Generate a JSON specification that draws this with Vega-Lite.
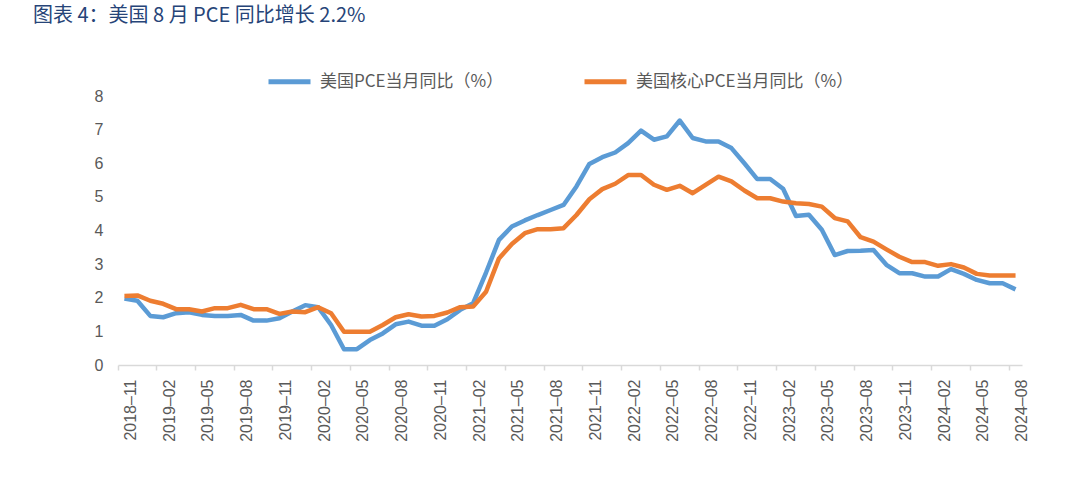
{
  "$schema": "https://vega.github.io/schema/vega-lite/v6.json",
  "width": 904,
  "height": 269,
  "autosize": {"type": "none"},
  "padding": {"left": 118, "top": 96, "right": 60, "bottom": 133},
  "background": "white",
  "config": {
    "view": {"stroke": null},
    "font": "Liberation Sans",
    "axisY": {
      "title": null,
      "values": [0, 1, 2, 3, 4, 5, 6, 7, 8],
      "grid": false,
      "domain": false,
      "ticks": false,
      "tickSize": 0,
      "labelPadding": 15,
      "labelFontSize": 16,
      "labelColor": "#595959",
      "labelOverlap": false
    }
  },
  "title": {
    "text": "图表 4：美国 8 月 PCE 同比增长 2.2%",
    "anchor": "start",
    "frame": "group",
    "orient": "top",
    "dx": -85,
    "offset": 32,
    "font": "Noto Sans CJK SC",
    "fontSize": 20,
    "fontWeight": "normal",
    "color": "#264478"
  },
  "data": {
    "values": [
      {"month": "2018-11", "pce": 1.98, "core": 2.05},
      {"month": "2018-12", "pce": 1.91, "core": 2.07},
      {"month": "2019-01", "pce": 1.46, "core": 1.91},
      {"month": "2019-02", "pce": 1.42, "core": 1.82},
      {"month": "2019-03", "pce": 1.54, "core": 1.66},
      {"month": "2019-04", "pce": 1.57, "core": 1.66},
      {"month": "2019-05", "pce": 1.49, "core": 1.59},
      {"month": "2019-06", "pce": 1.46, "core": 1.69},
      {"month": "2019-07", "pce": 1.46, "core": 1.69},
      {"month": "2019-08", "pce": 1.49, "core": 1.79},
      {"month": "2019-09", "pce": 1.32, "core": 1.66},
      {"month": "2019-10", "pce": 1.32, "core": 1.66},
      {"month": "2019-11", "pce": 1.39, "core": 1.52},
      {"month": "2019-12", "pce": 1.59, "core": 1.59},
      {"month": "2020-01", "pce": 1.78, "core": 1.57},
      {"month": "2020-02", "pce": 1.72, "core": 1.72},
      {"month": "2020-03", "pce": 1.19, "core": 1.54},
      {"month": "2020-04", "pce": 0.47, "core": 0.99},
      {"month": "2020-05", "pce": 0.47, "core": 0.99},
      {"month": "2020-06", "pce": 0.74, "core": 0.99},
      {"month": "2020-07", "pce": 0.94, "core": 1.19},
      {"month": "2020-08", "pce": 1.21, "core": 1.42},
      {"month": "2020-09", "pce": 1.29, "core": 1.51},
      {"month": "2020-10", "pce": 1.17, "core": 1.44},
      {"month": "2020-11", "pce": 1.17, "core": 1.46},
      {"month": "2020-12", "pce": 1.36, "core": 1.56},
      {"month": "2021-01", "pce": 1.64, "core": 1.72},
      {"month": "2021-02", "pce": 1.84, "core": 1.74},
      {"month": "2021-03", "pce": 2.75, "core": 2.18},
      {"month": "2021-04", "pce": 3.72, "core": 3.17},
      {"month": "2021-05", "pce": 4.12, "core": 3.6},
      {"month": "2021-06", "pce": 4.3, "core": 3.92},
      {"month": "2021-07", "pce": 4.46, "core": 4.04},
      {"month": "2021-08", "pce": 4.61, "core": 4.04},
      {"month": "2021-09", "pce": 4.76, "core": 4.07},
      {"month": "2021-10", "pce": 5.31, "core": 4.46},
      {"month": "2021-11", "pce": 5.98, "core": 4.93},
      {"month": "2021-12", "pce": 6.18, "core": 5.23},
      {"month": "2022-01", "pce": 6.32, "core": 5.39},
      {"month": "2022-02", "pce": 6.6, "core": 5.65},
      {"month": "2022-03", "pce": 6.97, "core": 5.65},
      {"month": "2022-04", "pce": 6.7, "core": 5.36},
      {"month": "2022-05", "pce": 6.8, "core": 5.21},
      {"month": "2022-06", "pce": 7.27, "core": 5.33},
      {"month": "2022-07", "pce": 6.75, "core": 5.11},
      {"month": "2022-08", "pce": 6.65, "core": 5.36},
      {"month": "2022-09", "pce": 6.65, "core": 5.6},
      {"month": "2022-10", "pce": 6.45, "core": 5.46},
      {"month": "2022-11", "pce": 6.0, "core": 5.19},
      {"month": "2022-12", "pce": 5.53, "core": 4.96},
      {"month": "2023-01", "pce": 5.53, "core": 4.96},
      {"month": "2023-02", "pce": 5.24, "core": 4.86},
      {"month": "2023-03", "pce": 4.43, "core": 4.81},
      {"month": "2023-04", "pce": 4.47, "core": 4.79},
      {"month": "2023-05", "pce": 4.02, "core": 4.71},
      {"month": "2023-06", "pce": 3.27, "core": 4.37},
      {"month": "2023-07", "pce": 3.39, "core": 4.27},
      {"month": "2023-08", "pce": 3.4, "core": 3.8},
      {"month": "2023-09", "pce": 3.42, "core": 3.67},
      {"month": "2023-10", "pce": 2.98, "core": 3.44},
      {"month": "2023-11", "pce": 2.73, "core": 3.22},
      {"month": "2023-12", "pce": 2.73, "core": 3.06},
      {"month": "2024-01", "pce": 2.63, "core": 3.06},
      {"month": "2024-02", "pce": 2.63, "core": 2.95},
      {"month": "2024-03", "pce": 2.85, "core": 3.0},
      {"month": "2024-04", "pce": 2.71, "core": 2.9},
      {"month": "2024-05", "pce": 2.53, "core": 2.71},
      {"month": "2024-06", "pce": 2.43, "core": 2.66},
      {"month": "2024-07", "pce": 2.43, "core": 2.66},
      {"month": "2024-08", "pce": 2.25, "core": 2.66}
    ]
  },
  "encoding": {
    "x": {
      "field": "month",
      "type": "ordinal",
      "bandPosition": 0.5,
      "scale": {"type": "band", "paddingInner": 0, "paddingOuter": 0},
      "axis": {
        "title": null,
        "values": ["2018-11", "2019-02", "2019-05", "2019-08", "2019-11", "2020-02", "2020-05", "2020-08", "2020-11", "2021-02", "2021-05", "2021-08", "2021-11", "2022-02", "2022-05", "2022-08", "2022-11", "2023-02", "2023-05", "2023-08", "2023-11", "2024-02", "2024-05", "2024-08"],
        "labelExpr": "replace(datum.label, '-', '–')",
        "bandPosition": 0,
        "labelOffset": 6.5,
        "labelAngle": -90,
        "labelFontSize": 16,
        "labelColor": "#595959",
        "labelPadding": 9,
        "domainColor": "#D9D9D9",
        "domainWidth": 1.5,
        "tickColor": "#D9D9D9",
        "tickWidth": 1.5,
        "tickSize": 5
      }
    },
    "color": {
      "type": "nominal",
      "scale": {
        "domain": ["美国PCE当月同比（%）", "美国核心PCE当月同比（%）"],
        "range": ["#5B9BD5", "#ED7D31"]
      },
      "legend": {
        "title": null,
        "orient": "none",
        "direction": "horizontal",
        "legendX": 148,
        "legendY": -38,
        "symbolType": "stroke",
        "symbolSize": 1764,
        "symbolStrokeWidth": 5,
        "labelFont": "Noto Sans CJK SC",
        "labelFontSize": 17,
        "labelColor": "#595959",
        "labelOffset": 7,
        "labelLimit": 400,
        "columnPadding": 70
      }
    }
  },
  "layer": [
    {
      "mark": {"type": "line", "strokeWidth": 4.5, "strokeJoin": "round"},
      "encoding": {
        "y": {
          "field": "pce",
          "type": "quantitative",
          "scale": {"domain": [0, 8], "nice": false}
        },
        "color": {"datum": "美国PCE当月同比（%）"}
      }
    },
    {
      "mark": {"type": "line", "strokeWidth": 4.5, "strokeJoin": "round"},
      "encoding": {
        "y": {"field": "core", "type": "quantitative"},
        "color": {"datum": "美国核心PCE当月同比（%）"}
      }
    }
  ]
}
